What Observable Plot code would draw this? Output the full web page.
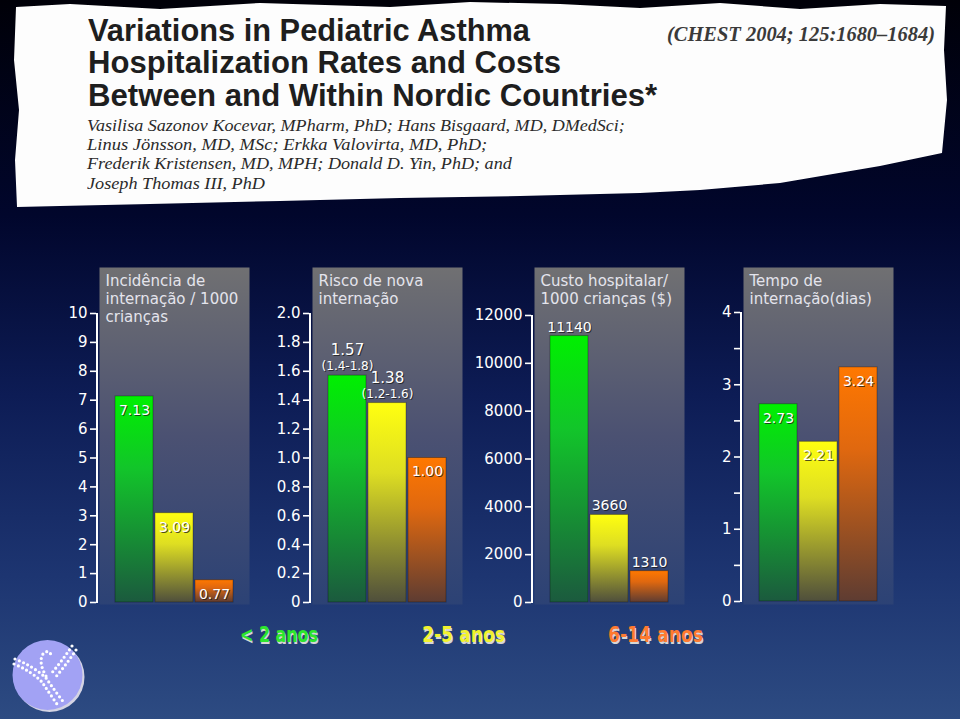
<!DOCTYPE html>
<html>
<head>
<meta charset="utf-8">
<script src="https://cdn.jsdelivr.net/npm/d3@7"></script>
<script src="https://cdn.jsdelivr.net/npm/@observablehq/plot@0.6"></script>
<style>
html, body { margin: 0; padding: 0; }
body {
  width: 960px; height: 719px; overflow: hidden; position: relative;
  background: linear-gradient(to bottom, #000008 0%, #01062c 30%, #0d1c55 55%, #1d3571 80%, #2d4b82 100%);
  font-family: "DejaVu Sans", sans-serif;
}
#paper {
  position: absolute; left: 0; top: 0; width: 960px; height: 215px; background: #fdfdfd;
  clip-path: polygon(16px 7px, 70px 4px, 160px 9px, 260px 3px, 390px 7px, 470px 2px, 560px 4px, 640px 8px, 720px 3px, 800px 9px, 880px 4px, 946px 6px,
    944px 50px, 947px 100px, 942px 153px,
    880px 166px, 780px 183px, 700px 190px, 640px 193px, 520px 196px, 400px 198px, 280px 201px, 150px 204px, 60px 206px, 17px 207px,
    15px 160px, 19px 110px, 14px 60px);
}
.tl { position: absolute; white-space: nowrap; transform-origin: 0 0; line-height: 1; }
.title { font-family: "Liberation Sans Narrow", "Liberation Sans", sans-serif; font-weight: bold; font-size: 31px; color: #1e1e1e; }
.auth { font-family: "Liberation Serif", serif; font-style: italic; font-size: 17px; color: #2a2a2a; }
.chest { font-family: "Liberation Serif", serif; font-style: italic; font-weight: bold; font-size: 20px; color: #3a3a3a; }
.panel { position: absolute; top: 250px; }
.leg { position: absolute; top: 625px; font-family: "DejaVu Sans Condensed", "DejaVu Sans", sans-serif; font-size: 21px; font-weight: bold;
  text-shadow: 1px 2px 0 #d6d6d6; white-space: nowrap; transform-origin: 0 0; line-height: 1; }
</style>
</head>
<body>
<svg width="0" height="0" style="position:absolute">
  <defs>
    <linearGradient id="gPanel" x1="0" y1="0" x2="0" y2="1">
      <stop offset="0" stop-color="#707072"/>
      <stop offset="0.5" stop-color="#4b5172"/>
      <stop offset="1" stop-color="#2c4275"/>
    </linearGradient>
    <linearGradient id="gGreen" x1="0" y1="0" x2="0" y2="1">
      <stop offset="0" stop-color="#00f000"/>
      <stop offset="0.35" stop-color="#12c52a"/>
      <stop offset="1" stop-color="#1b5a3e"/>
    </linearGradient>
    <linearGradient id="gYellow" x1="0" y1="0" x2="0" y2="1">
      <stop offset="0" stop-color="#ffff10"/>
      <stop offset="0.35" stop-color="#dede22"/>
      <stop offset="1" stop-color="#4f4f3c"/>
    </linearGradient>
    <linearGradient id="gOrange" x1="0" y1="0" x2="0" y2="1">
      <stop offset="0" stop-color="#ff7800"/>
      <stop offset="0.35" stop-color="#e0680f"/>
      <stop offset="1" stop-color="#5e3c32"/>
    </linearGradient>
  </defs>
</svg>

<div id="paper"></div>
<div class="tl title" data-w="442" style="left:88px;top:15px">Variations in Pediatric Asthma</div>
<div class="tl title" data-w="473" style="left:88px;top:47px">Hospitalization Rates and Costs</div>
<div class="tl title" data-w="569" style="left:88px;top:80px">Between and Within Nordic Countries*</div>
<div class="tl auth" data-w="538" style="left:87px;top:117px">Vasilisa Sazonov Kocevar, MPharm, PhD; Hans Bisgaard, MD, DMedSci;</div>
<div class="tl auth" data-w="400" style="left:87px;top:136px">Linus Jönsson, MD, MSc; Erkka Valovirta, MD, PhD;</div>
<div class="tl auth" data-w="425" style="left:87px;top:155px">Frederik Kristensen, MD, MPH; Donald D. Yin, PhD; and</div>
<div class="tl auth" data-w="178" style="left:87px;top:175px">Joseph Thomas III, PhD</div>
<div class="tl chest" data-w="268" style="left:667px;top:24px">(CHEST 2004; 125:1680–1684)</div>

<div id="charts"></div>
<div id="legend"></div>

<svg width="80" height="80" style="position:absolute;left:9px;top:636px">
  <circle cx="40.5" cy="41" r="35" fill="#d4d4e4"/>
  <circle cx="38.5" cy="39" r="35" fill="#a2a2f4"/>
  <g fill="none" stroke="#ffffff" stroke-width="3.2" stroke-linecap="round" stroke-dasharray="0 4.6">
    <path d="M6,23 Q24,30 37,42 Q46,55 56,68"/>
    <path d="M5,28 Q22,35 33,46 Q41,58 50,71"/>
    <path d="M63,10 Q53,25 41,39"/>
    <path d="M67,14 Q57,29 45,43"/>
    <path d="M37,40 Q29,26 34,18 Q40,12 43,21"/>
  </g>
</svg>

<script>
// ---- data ----
const groups = ["< 2 anos", "2-5 anos", "6-14 anos"];
const groupColors = ["#2de62d", "#f2f22e", "#ff7a30"];
const barGradients = ["url(#gGreen)", "url(#gYellow)", "url(#gOrange)"];

const incidence = [7.13, 3.09, 0.77];
const readmission = [1.57, 1.38, 1.00];
const readmissionCI = ["(1.4-1.8)", "(1.2-1.6)", ""];
const cost = [11140, 3660, 1310];
const stay = [2.73, 2.21, 3.24];

const ticksIncidence = [0, 1, 2, 3, 4, 5, 6, 7, 8, 9, 10];
const ticksReadmission = [0, 0.2, 0.4, 0.6, 0.8, 1.0, 1.2, 1.4, 1.6, 1.8, 2.0];
const ticksCost = [0, 2000, 4000, 6000, 8000, 10000, 12000];
const ticksStay = [0, 0.5, 1, 1.5, 2, 2.5, 3, 3.5, 4];

const panelTitles = [
  "Incidência de\ninternação / 1000\ncrianças",
  "Risco de nova\ninternação",
  "Custo hospitalar/\n1000 crianças ($)",
  "Tempo de\ninternação(dias)"
];

// ---- layout ----
const TOP = 250, W = 220, H = 370, ML = 60, MR = 10, MT = 17, MB = 16;
const FONT = "'DejaVu Sans', sans-serif";

const panels = [
  {values: incidence, ticks: ticksIncidence, tickFmt: d => String(d), valFmt: d => d.toFixed(2),
   title: panelTitles[0], frameLeft: 99, y0: 602, yTop: 313, place: ["in", "in", "in"]},
  {values: readmission, ci: readmissionCI, ticks: ticksReadmission, tickFmt: d => d === 0 ? "0" : d.toFixed(1), valFmt: d => d.toFixed(2),
   title: panelTitles[1], frameLeft: 312, y0: 602, yTop: 313, place: ["above", "above", "in"]},
  {values: cost, ticks: ticksCost, tickFmt: d => String(d), valFmt: d => String(d),
   title: panelTitles[2], frameLeft: 534, y0: 602, yTop: 315, place: ["above", "above", "above"]},
  {values: stay, ticks: ticksStay, tickFmt: d => Number.isInteger(d) ? String(d) : "", valFmt: d => d.toFixed(2),
   title: panelTitles[3], frameLeft: 743, y0: 601, yTop: 312, place: ["in", "in", "in"]}
];

function makePanel(cfg) {
  const data = groups.map((g, i) => ({group: g, value: cfg.values[i], fill: barGradients[i],
    ci: cfg.ci ? cfg.ci[i] : "", place: cfg.place[i]}));
  const ymax = cfg.ticks[cfg.ticks.length - 1];
  const inside = data.filter(d => d.place === "in");
  const above = data.filter(d => d.place === "above");
  const hasCI = above.some(d => d.ci);
  const axisLine = (index, scales, values, dims) =>
    d3.create("svg:line")
      .attr("x1", dims.marginLeft - 2).attr("x2", dims.marginLeft - 2)
      .attr("y1", scales.y(0) + 1).attr("y2", scales.y(ymax))
      .attr("stroke", "white").attr("stroke-width", 2).node();
  const labelMarks = (rows, opts) => [
    Plot.text(rows, {x: "group", y: "value", ...opts, dx: 1, dy: opts.dy + 1, fill: "#1a1a1a", fillOpacity: 0.75}),
    Plot.text(rows, {x: "group", y: "value", ...opts, fill: "#ffffff"})
  ];
  const marks = [
    Plot.frame({fill: "url(#gPanel)", stroke: "none"}),
    Plot.axisY({ticks: cfg.ticks, tickFormat: cfg.tickFmt, tickSize: 6, tickPadding: 3, dx: -3,
      color: "white", fontSize: 15, strokeWidth: 1.6, label: null}),
    axisLine,
    Plot.barY(data, {x: "group", y: "value", fill: "fill", stroke: "#000", strokeOpacity: 0.3, strokeWidth: 1}),
    Plot.text([cfg.title], {frameAnchor: "top-left", text: d => d, dx: 6, dy: 5, lineAnchor: "top",
      lineHeight: 1.22, textAnchor: "start", fill: "#e4e4ec", fontSize: 15}),
    ...labelMarks(inside, {text: d => cfg.valFmt(d.value), dy: 14, fontSize: 14})
  ];
  if (hasCI) {
    marks.push(...labelMarks(above, {text: d => cfg.valFmt(d.value), dy: -25, fontSize: 15}));
    marks.push(...labelMarks(above, {text: "ci", dy: -9, fontSize: 12}));
  } else {
    marks.push(...labelMarks(above, {text: d => cfg.valFmt(d.value), dy: -9, fontSize: 14}));
  }
  const svg = Plot.plot({
    width: W, height: H, marginLeft: ML, marginRight: MR, marginTop: MT, marginBottom: MB,
    style: {background: "transparent", overflow: "visible", fontFamily: FONT, maxWidth: "none"},
    x: {domain: groups, paddingInner: 0.05, paddingOuter: 0.4, axis: null},
    y: {domain: [0, ymax], range: [cfg.y0 - TOP, cfg.yTop - TOP], axis: null},
    color: {type: "identity"},
    marks
  });
  const wrap = document.createElement("div");
  wrap.className = "panel";
  wrap.style.left = (cfg.frameLeft - ML) + "px";
  wrap.appendChild(svg);
  document.getElementById("charts").appendChild(wrap);
}
panels.forEach(makePanel);

// ---- legend ----
const legendLeft = [240, 422, 608];
const legendWidth = [78, 83, 95];
const legend = document.getElementById("legend");
groups.forEach((g, i) => {
  const s = document.createElement("div");
  s.className = "leg";
  s.textContent = g;
  s.style.color = groupColors[i];
  s.style.left = legendLeft[i] + "px";
  s.dataset.w = legendWidth[i];
  legend.appendChild(s);
});

// fit text lines horizontally to the reference widths
document.querySelectorAll("[data-w]").forEach(el => {
  const w = el.getBoundingClientRect().width;
  if (w > 0) el.style.transform = `scaleX(${(+el.dataset.w / w).toFixed(3)})`;
});
</script>
</body>
</html>
